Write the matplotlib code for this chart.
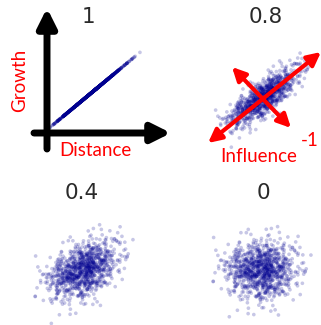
import matplotlib
matplotlib.use("Agg")
import matplotlib.pyplot as plt
import numpy as np

# correlation of each panel and its heading
correlations = [1.0, 0.8, 0.4, 0.0]
titles = ["1", "0.8", "0.4", "0"]
# panel centres in pixels (x, y from top)
centres = [(90, 94), (263, 98), (83, 270), (261, 270)]
n_points = 1000

W, H = 321, 325
fig = plt.figure(figsize=(W / 100, H / 100), dpi=100)

rng = np.random.default_rng(11)
base_x = rng.standard_normal(n_points)
noise = rng.standard_normal(n_points)

size = 120
for r, (cx, cy) in zip(correlations, centres):
    ax = fig.add_axes([(cx - size / 2) / W, 1 - (cy + size / 2) / H, size / W, size / H])
    y = r * base_x + np.sqrt(1 - r ** 2) * noise
    ax.scatter(base_x, y, s=7, color="#000090", alpha=0.22, edgecolors="none")
    ax.set_xlim(-3.5, 3.5)
    ax.set_ylim(-4.2, 4.2)
    ax.axis("off")

# overlay in pixel coordinates for headings, arrows and labels
ov = fig.add_axes([0, 0, 1, 1])
ov.set_xlim(0, W)
ov.set_ylim(H, 0)
ov.axis("off")

title_pos = [(88, 17), (266, 17), (82, 193), (263, 193)]
for t, (tx, ty) in zip(titles, title_pos):
    ov.text(tx, ty, t, fontsize=15.5, color="#2a2a2a", ha="center", va="center")

# black axes of the first panel
ov.annotate("", xy=(47, 8), xytext=(47, 149),
            arrowprops=dict(arrowstyle="-|>", lw=5, color="black", mutation_scale=28,
                            shrinkA=0, shrinkB=0))
ov.annotate("", xy=(171, 133), xytext=(34, 133),
            arrowprops=dict(arrowstyle="-|>", lw=5, color="black", mutation_scale=28,
                            shrinkA=0, shrinkB=0))

# red double arrows over the 0.8 cloud
ov.annotate("", xy=(321, 52), xytext=(208, 143),
            arrowprops=dict(arrowstyle="<|-|>", lw=3, color="red", mutation_scale=20,
                            shrinkA=0, shrinkB=0))
ov.annotate("", xy=(291, 128), xytext=(232, 67),
            arrowprops=dict(arrowstyle="<|-|>", lw=3, color="red", mutation_scale=20,
                            shrinkA=0, shrinkB=0))

red = "#ff0000"
ov.text(20, 80, "Growth", fontsize=13.5, color=red, rotation=90, ha="center", va="center",
        family="Lato")
ov.text(95, 151, "Distance", fontsize=13.5, color=red, ha="center", va="center", family="Lato")
ov.text(259, 157, "Influence", fontsize=13.5, color=red, ha="center", va="center", family="Lato")
ov.text(310, 141, "-1", fontsize=13.5, color=red, ha="center", va="center", family="Lato")

fig.savefig("out.png", dpi=100)
